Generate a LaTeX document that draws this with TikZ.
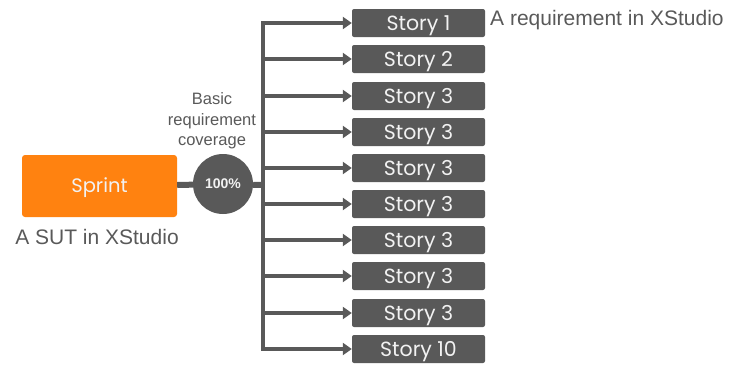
\documentclass[tikz,border=0pt]{standalone}
\usepackage{fontspec}
\setmainfont{Liberation Sans}
\newfontfamily\geo{Poppins}
\usetikzlibrary{arrows.meta}
\definecolor{dg}{HTML}{595959}
\definecolor{lt}{HTML}{F2F2F2}
\definecolor{org}{HTML}{FF8210}
\begin{document}
\begin{tikzpicture}[x=1pt,y=-1pt,
  storybox/.style={fill=dg,rounded corners=2pt,minimum width=133pt,minimum height=28pt,inner sep=0pt,text=lt,text height=14pt,text depth=0pt,font=\geo\fontsize{20.5}{20.5}\selectfont},
  conn/.style={draw=dg,line width=4pt},
  arr/.style={conn,-{Triangle[length=9pt,width=12pt]}},
  lab/.style={text=dg,inner sep=0pt}]
\useasboundingbox (0,0) rectangle (731,365);
\node[fill=org,rounded corners=3pt,minimum width=155pt,minimum height=62pt,inner sep=0pt,text=lt,text height=13.5pt,text depth=0pt,font=\geo\fontsize{19.5}{19.5}\selectfont] (sprint) at (99.5,186) {Sprint};
\node[lab,font=\fontsize{21}{21}\selectfont,anchor=north] (sut) at (97,229) {A SUT in XStudio};
\node[circle,fill=dg,minimum size=60pt,inner sep=0pt,text=lt,font=\bfseries\fontsize{14}{14}\selectfont] (circ) at (223,184) {100\%};
\node[lab,align=center,font=\fontsize{16.5}{20.5}\selectfont] (cov) at (212,121) {Basic\\requirement\\coverage};
\coordinate (trunk) at (263,185);
\draw[draw=dg,line width=6pt] (sprint.east |- 0,185) -- (circ);
\draw[draw=dg,line width=6pt] (circ) -- (trunk);
\foreach \i/\t/\y in {1/Story 1/23,2/Story 2/59,3/Story 3/96,4/Story 3/132,5/Story 3/168,6/Story 3/204,7/Story 3/240,8/Story 3/276,9/Story 3/313,10/Story 10/349}{
  \node[storybox] (s\i) at (418.5,\y) {\t};
  \coordinate (t\i) at (263,\y);
  \draw[arr] (t\i) -- (s\i.west);
}
\draw[conn,line cap=rect] (t1) -- (t10);
\node[lab,font=\fontsize{21}{21}\selectfont,anchor=west] (req) at (490,20) {A requirement in XStudio};
\end{tikzpicture}
\end{document}
